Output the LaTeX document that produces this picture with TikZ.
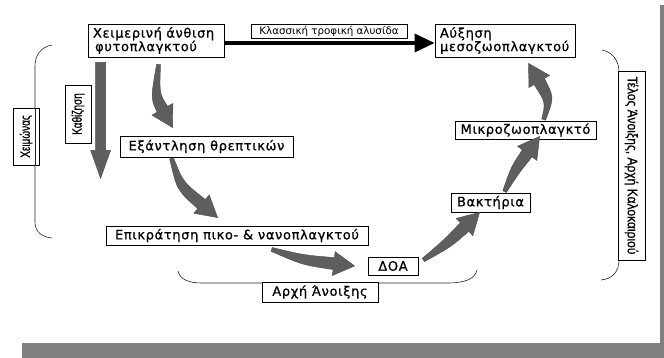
\documentclass[tikz,border=0pt]{standalone}
\usepackage{fontspec}
\setmainfont{DejaVu Sans}
\newfontfamily\boxfont{DejaVu Sans}[LetterSpace=5,FakeBold=0.8]
\newfontfamily\narrowfont{Liberation Sans}[FakeStretch=0.86,FakeBold=0.6]
\newfontfamily\narrowerfont{Liberation Sans}[FakeStretch=0.74,FakeBold=0.6]
\usetikzlibrary{arrows.meta,calc}
\definecolor{shadowgray}{HTML}{808080}
\definecolor{arrowgray}{HTML}{5E5E5E}
\tikzset{
  box/.style={draw=black, line width=0.8pt, fill=white, inner sep=0pt,
    font=\boxfont\fontsize{13}{13.5}\selectfont},
  smalllabel/.style={draw=black, line width=0.6pt, fill=white, inner sep=0pt,
    font=\fontsize{10.3}{11}\selectfont},
  sidelabel/.style={draw=black, line width=0.6pt, fill=white, inner sep=0pt,
    font=\narrowfont\fontsize{14}{14}\selectfont},
  shortlabel/.style={sidelabel, font=\narrowerfont\fontsize{13.5}{14}\selectfont},
  bracket/.style={draw=black!85, line width=0.6pt},
  arrowfill/.style={fill=arrowgray, draw=black!70, line width=0.4pt},
  blackarrow/.style={draw=black, line width=3.5pt,
    -{Triangle[length=20pt,width=18pt]}},
}
\newcommand{\fatarrow}[3]{%
  \coordinate (FAt) at #1;
  \coordinate (FAc) at #2;
  \coordinate (FAp) at #3;
  \coordinate (FAb) at ($(FAp)!21pt!(FAc)$);
  \path[arrowfill] ($(FAt)!2pt!90:(FAc)$)
    .. controls ($(FAc)!5pt!90:(FAp)$) .. ($(FAb)!6pt!90:(FAp)$)
    -- ($(FAb)!12pt!90:(FAp)$) -- (FAp) -- ($(FAb)!12pt!-90:(FAp)$)
    -- ($(FAb)!6pt!-90:(FAp)$)
    .. controls ($(FAc)!5pt!-90:(FAp)$) .. ($(FAt)!2pt!-90:(FAc)$) -- cycle;
}
\begin{document}
\begin{tikzpicture}[x=1pt,y=-1pt]
\useasboundingbox (0,0) rectangle (664,358);
% shadow
\fill[shadowgray] (22,343) rectangle (664,358);
\fill[shadowgray] (660,5) rectangle (664,358);

% brackets
\draw[bracket] (52,45) .. controls (41,47) and (35,55) .. (35,66) -- (35,222)
  .. controls (35,232) and (42,237) .. (52,238);
\draw[bracket] (178,271) .. controls (180,280) and (190,283) .. (202,283) -- (447,283)
  .. controls (465,283) and (475,279) .. (477,270);
\draw[bracket] (602,50) .. controls (612,52) and (619,60) .. (619,72) -- (619,260)
  .. controls (619,272) and (612,279) .. (601,280);

% nodes
\node[box, inner xsep=5pt, text width=126pt, minimum height=33pt, align=left] (b1) at (156,40.5)
  {Χειμερινή άνθιση\\\,φυτοπλαγκτού};
\node[box, inner xsep=5pt, text width=130pt, minimum height=33pt, align=left] (b2) at (505,40.5)
  {Αύξηση\\μεσοζωοπλαγκτού};
\node[box, minimum width=173pt, minimum height=21pt] (ex) at (206.5,146.5)
  {Εξάντληση θρεπτικών};
\node[box, minimum width=262pt, minimum height=19pt] (ep) at (237,235.5)
  {Επικράτηση πικο- \& νανοπλαγκτού};
\node[box, minimum width=50pt, minimum height=18pt] (doa) at (393,266) {ΔΟΑ};
\node[box, minimum width=116pt, minimum height=20pt] (arxi) at (320,292)
  {Αρχή Άνοιξης};
\node[box, minimum width=79pt, minimum height=19pt] (bak) at (490.5,202.5)
  {Βακτήρια};
\node[box, minimum width=141pt, minimum height=18pt] (mik) at (525.5,130)
  {Μικροζωοπλαγκτό};
\node[shortlabel, rotate=90, minimum width=58pt, minimum height=26pt] (kath) at (78,114)
  {Καθίζηση};
\node[shortlabel, rotate=90, minimum width=57pt, minimum height=26pt] (xeim) at (26,136.5)
  {Χειμώνας};
\node[sidelabel, rotate=-90, minimum width=189pt, minimum height=27pt] (telos) at (631.5,165.5)
  {Τέλος Άνοιξης, Αρχή Καλοκαιριού};
\draw[bracket] (35,108) -- (35,166);

% classic food chain arrow
\draw[blackarrow] ($(b1.east)+(0,2.5)$) -- ($(b2.west)+(0,2.5)$);
\node[smalllabel, minimum width=156pt, minimum height=14pt] (klabel) at (329,31)
  {Κλασσική τροφική αλυσίδα};

% sinking arrow
\path[arrowfill] ($(b1.south west)+(8,5)$) -- ++(10,0) -- ++(0,88) -- ++(5,0)
  -- ($(b1.south west)+(13,121)$) -- ($(b1.south west)+(3,93)$) -- ++(5,0) -- cycle;

% fat curved arrows
\fatarrow{($(b1.south west)+(71,7)$)}{(155,96)}{($(ex.north west)+(53,-8)$)}
\fatarrow{($(ex.south west)+(52,1)$)}{(180,186)}{($(ep.north west)+(112,-8)$)}
\fatarrow{($(ep.south west)+(166,4)$)}{(303,260)}{($(doa.west)+(-13,0)$)}
\fatarrow{($(doa.east)+(5,-6)$)}{(448,243)}{($(bak.south west)+(29,0)$)}
\fatarrow{($(bak.north west)+(54,-1)$)}{(515,170)}{($(mik.south west)+(85,-3)$)}
\fatarrow{($(mik.north west)+(89,-1)$)}{(550,100)}{($(b2.south west)+(94,6)$)}
\end{tikzpicture}
\end{document}
